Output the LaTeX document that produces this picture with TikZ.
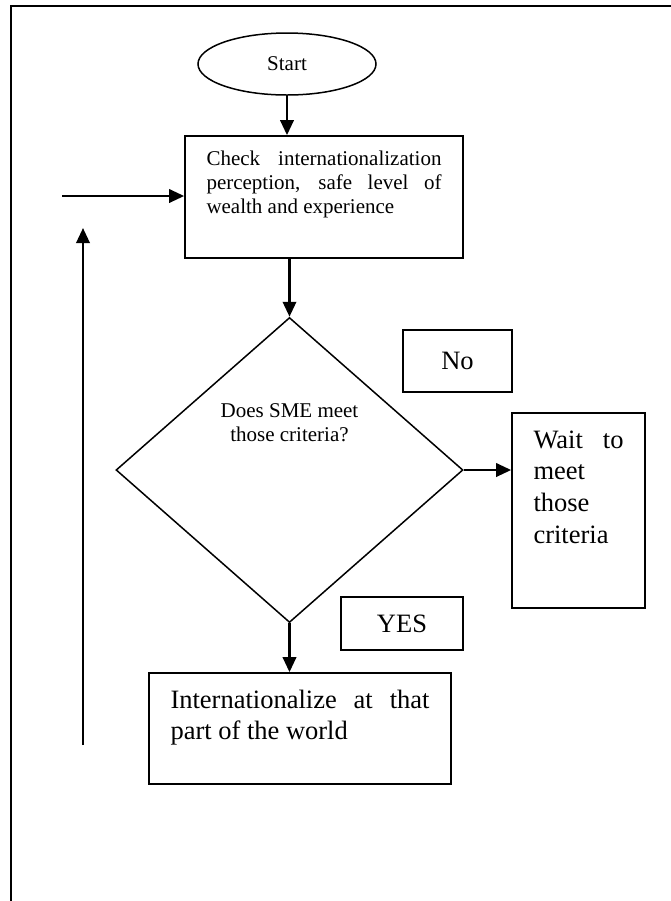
\documentclass[tikz,border=0pt]{standalone}
\usepackage{fontspec}
\setmainfont{Liberation Serif}
\usetikzlibrary{arrows.meta,shapes.geometric}

\newcommand{\normtxt}{\fontsize{12.6}{14.4}\selectfont}
\newcommand{\largetxt}{\fontsize{15.9}{19}\selectfont}
% width, height, top pad, text
\newcommand{\boxtext}[4]{\parbox[c][#2][t]{#1}{\hyphenpenalty=10000\tolerance=10000\hbadness=10000\vspace*{#3}\strut#4}}

\tikzset{
	frame/.style={line width=1.2pt},
	procbox/.style={rectangle,draw,line width=1pt,inner xsep=12.9pt,inner ysep=0pt},
	tagbox/.style={rectangle,draw,line width=1pt,inner sep=0pt,font=\largetxt},
	flow/.style={line width=1.5pt,-{Triangle[length=9pt,width=8pt]}}
}

\begin{document}
\begin{tikzpicture}[x=0.6pt,y=-0.6pt]
		\useasboundingbox (0,0) rectangle (671,901);
		\clip (0,0) rectangle (671,901);
%		\draw[help lines,step=50] (0,0) grid (671,901);
		\path (287,64) coordinate (start_c);
		\path (324,197) coordinate (check_c);
		\path (289.5,470) coordinate (decide_c);
		\path (289.5,423) coordinate (question_c);
		\path (457.5,361) coordinate (no_c);
		\path (578.5,510.5) coordinate (wait_c);
		\path (402,623.5) coordinate (yes_c);
		\path (300,728.5) coordinate (act_c);

		\path (62,196) coordinate (entry_l);
		\path (83,745) coordinate (loop_b);
		\path (83,228) coordinate (loop_t);

		\draw[frame] (10.5,6) rectangle (720,960);

		\draw (start_c) node(start) [ellipse,draw,line width=0.9pt,minimum width=106.8pt,minimum height=37.2pt,inner sep=0pt,font=\normtxt] {Start};
		\draw (check_c) node(check) [procbox,font=\normtxt] {\boxtext{141pt}{73.2pt}{7.9pt}{Check internationalization perception, safe level of wealth and experience}};

		\draw (decide_c) node(decide) [diamond,draw,line width=0.9pt,minimum width=208.2pt,minimum height=183pt,inner sep=0pt] {};
		\draw (question_c) node(question) [align=center,inner sep=0pt,font=\normtxt] {Does SME meet\\those criteria?};

		\draw (no_c) node(no) [tagbox,minimum width=65.4pt,minimum height=37.2pt] {No};
		\draw (wait_c) node(wait) [procbox,font=\largetxt] {\boxtext{54pt}{117pt}{7.7pt}{Wait to\linebreak meet\linebreak those\linebreak criteria}};
		\draw (yes_c) node(yes) [tagbox,minimum width=73.2pt,minimum height=31.8pt] {YES};
		\draw (act_c) node(act) [procbox,font=\largetxt] {\boxtext{155.4pt}{66.6pt}{7.7pt}{Internationalize at that part of the world}};

		\draw[flow] (start.south) -- (start.south |- check.north);
		\draw[flow] (decide.north |- check.south) -- (decide.north);
		\draw[flow] (decide.east) -- (decide.east -| wait.west);
		\draw[flow] (decide.south) -- (decide.south |- act.north);
		\draw[flow] (entry_l) -- (entry_l -| check.west);
		\draw[flow] (loop_b) -- (loop_t);
	\end{tikzpicture}
\end{document}
